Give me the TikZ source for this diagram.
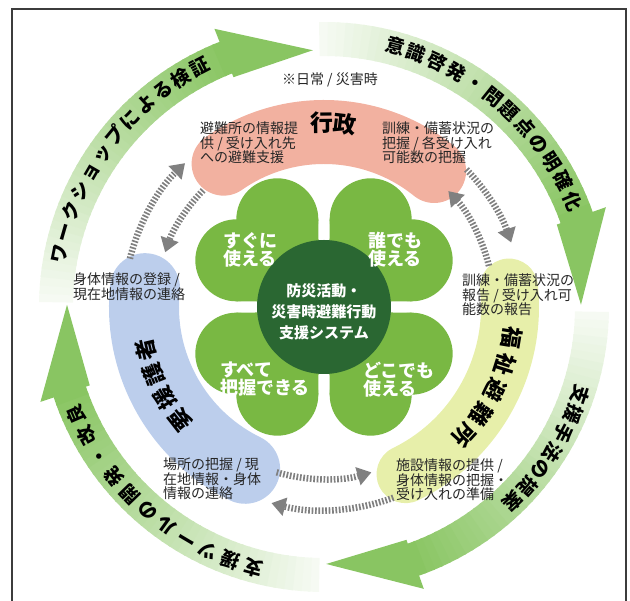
\documentclass[tikz,border=0pt]{standalone}
\usepackage{fontspec}
\setmainfont{Noto Sans CJK JP}
\usetikzlibrary{arrows.meta}
\definecolor{arrowgreen}{RGB}{137,197,98}
\definecolor{leafgreen}{RGB}{121,184,67}
\definecolor{darkgreen}{RGB}{42,103,50}
\definecolor{pinkband}{RGB}{242,177,160}
\definecolor{blueband}{RGB}{188,206,236}
\definecolor{yellowband}{RGB}{231,239,170}
\definecolor{dotgray}{RGB}{128,128,128}
\definecolor{framegray}{RGB}{60,60,60}
\tikzset{
  ringtxt/.style={font=\fontsize{19}{19}\selectfont\bfseries, inner sep=0pt, text height=12.2pt, text depth=-2.2pt, text=black},
  bandtitle/.style={font=\fontsize{22}{22}\selectfont\bfseries, inner sep=0pt, text height=14.4pt, text depth=-2.4pt, text=black},
  smalltxt/.style={font=\fontsize{14}{14.5}\selectfont, align=left, inner sep=0pt, anchor=north west, text=black!85},
  leaftxt/.style={font=\fontsize{18}{18}\selectfont\bfseries, align=left, inner sep=0pt, anchor=north west, text=white},
  centertxt/.style={font=\fontsize{15}{21}\selectfont\bfseries, align=center, inner sep=0pt, anchor=north, text=white},
  dotarrow/.style={draw=dotgray, line width=6.5pt, dash pattern=on 1.7pt off 1.7pt, -{Triangle[length=14pt,width=18pt]}},
  bandstroke/.style={line cap=round},
}
\newcommand\cloverleaf[1]{%
  \begin{scope}[rotate=#1]
    \fill[leafgreen] (95,29) circle[radius=41];
    \fill[leafgreen] (95,-29) circle[radius=41];
    \fill[leafgreen] (7.07,0) -- (66,58) -- (95,29) -- (95,-29) -- (66,-58) -- cycle;
  \end{scope}}
\begin{document}
\begin{tikzpicture}[x=1pt,y=1pt]
\useasboundingbox (-324,-294) rectangle (306,307);
% frame
\draw[framegray, line width=1.1pt] (-312,-300) -- (-312,298) -- (302,298) -- (302,-300);
% outer gradient arcs
\foreach \s/\h/\e in {179/111.5/92.5, 91/19.5/0.5, -1/-70.5/-89.5, -91/-161.5/-180.5} {
  \foreach \i in {0,...,39} {
    \pgfmathsetmacro\aa{\s+(\h-\s)*\i/40}
    \pgfmathsetmacro\bb{\s+(\h-\s)*(\i+1.25)/40}
    \pgfmathtruncatemacro\p{8+92*\i/39}
    \fill[arrowgreen!\p!white] (\aa:251) arc[start angle=\aa, end angle=\bb, radius=251]
      -- (\bb:285) arc[start angle=\bb, end angle=\aa, radius=285] -- cycle;
  }
}
\foreach \h/\e in {111.5/92.5, 19.5/0.5, -70.5/-89.5, -161.5/-180.5} {
  \fill[arrowgreen] (\h:247) -- (\e:257) -- (\h:299) -- cycle;
}
% outer ring text
\foreach \ch [count=\i from 0] in {ワ,ー,ク,シ,ョ,ッ,プ,に,よ,る,検,証} {
  \pgfmathsetmacro\a{168.6-4.655*\i}
  \node[ringtxt, rotate=\a-90] (ta\i) at (\a:269) {\makebox[10pt]{\ch}};
}
\foreach \ch [count=\i from 0] in {意,識,啓,発,・,問,題,点,の,明,確,化} {
  \pgfmathsetmacro\a{74.7-4.69*\i}
  \node[ringtxt, rotate=\a-90] (tb\i) at (\a:269) {\makebox[10pt]{\ch}};
}
\foreach \ch [count=\i from 0] in {支,援,手,法,の,提,案} {
  \pgfmathsetmacro\a{-18.8-4.52*\i}
  \node[ringtxt, rotate=\a-90] (tc\i) at (\a:270) {\makebox[10pt]{\ch}};
}
\foreach \ch [count=\i from 0] in {支,援,ツ,ー,ル,の,開,発,・,改,良} {
  \pgfmathsetmacro\a{-105.2-5.14*\i}
  \node[ringtxt, rotate=\a-90] (td\i) at (\a:269) {\makebox[10pt]{\ch}};
}
% inner bands
\draw[bandstroke, pinkband, line width=64pt] (125:175) arc[start angle=125, end angle=51, radius=175];
\draw[bandstroke, blueband, line width=70pt] (174:180) arc[start angle=174, end angle=244, radius=180];
\draw[bandstroke, yellowband, line width=58pt] (6:186) arc[start angle=6, end angle=-64, radius=186];
% dotted arrows
\draw[dotarrow] (166:200) arc[start angle=166, end angle=134, radius=200];
\draw[dotarrow] (136:168) arc[start angle=136, end angle=161, radius=168];
\draw[dotarrow] (44:198) arc[start angle=44, end angle=19, radius=198];
\draw[dotarrow] (14:170) arc[start angle=14, end angle=43, radius=170];
\draw[dotarrow] (-106:172) arc[start angle=-106, end angle=-74, radius=172];
\draw[dotarrow] (-70:203) arc[start angle=-70, end angle=-105, radius=203];
% clover
\cloverleaf{45}
\cloverleaf{135}
\cloverleaf{225}
\cloverleaf{315}
\fill[darkgreen] (0,0) circle[radius=67];
% band titles
\node[bandtitle, font=\fontsize{23}{23}\selectfont\bfseries, rotate=0.6] (gy1) at (90.6:183) {\makebox[12pt]{行}};
\node[bandtitle, font=\fontsize{23}{23}\selectfont\bfseries, rotate=-6.6] (gy2) at (83.4:183) {\makebox[12pt]{政}};
\foreach \ch [count=\i from 0] in {要,援,護,者} {
  \pgfmathsetmacro\a{218-8.2*\i}
  \node[bandtitle, rotate=\a-90] (ye\i) at (\a:182) {\makebox[12pt]{\ch}};
}
\foreach \ch [count=\i from 0] in {福,祉,避,難,所} {
  \pgfmathsetmacro\a{-9.4-8.3*\i}
  \node[bandtitle, rotate=\a-90] (fu\i) at (\a:189) {\makebox[12pt]{\ch}};
}
% small texts
\node[font=\fontsize{14}{14.5}\selectfont, inner sep=0pt, text=black!85] (note) at (6,227) {※日常 / 災害時};
\node[smalltxt] (pl) at (-124,185.3) {避難所の情報提\\供 / 受け入れ先\\への避難支援};
\node[smalltxt] (pr) at (58,185.3) {訓練・備蓄状況の\\把握 / 各受け入れ\\可能数の把握};
\node[smalltxt] (bt) at (-251,34.3) {身体情報の登録 /\\現在地情報の連絡};
\node[smalltxt] (yt) at (138,33.3) {訓練・備蓄状況の\\報告 / 受け入れ可\\能数の報告};
\node[smalltxt] (yb) at (72,-151.7) {施設情報の提供 /\\身体情報の把握・\\受け入れの準備};
\node[smalltxt] (bb) at (-161,-150.7) {場所の把握 / 現\\在地情報・身体\\情報の連絡};
% leaf texts
\node[leaftxt] (l1) at (-101,75.1) {すぐに\\使える};
\node[leaftxt] (l2) at (44,75.1) {誰でも\\使える};
\node[leaftxt] (l3) at (-104,-54.9) {すべて\\把握できる};
\node[leaftxt] (l4) at (39,-54.9) {どこでも\\使える};
\node[centertxt] (core) at (0,23.7) {防災活動・\\災害時避難行動\\支援システム};
\end{tikzpicture}
\end{document}
